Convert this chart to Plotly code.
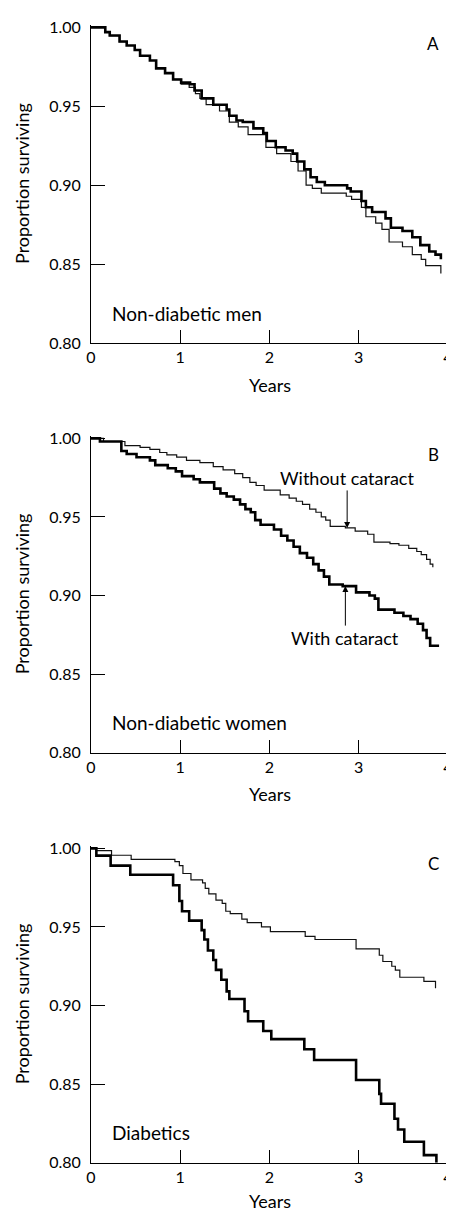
import plotly.graph_objects as go

# ---------------- data (Kaplan-Meier step curves) ----------------
years_ticks = [0, 1, 2, 3, 4]
surv_ticks = [0.80, 0.85, 0.90, 0.95, 1.00]

# Panel A: non-diabetic men
a_with_t = [0, 0.16, 0.21, 0.32, 0.40, 0.49, 0.55, 0.66, 0.73, 0.83, 0.92, 1.01, 1.11, 1.16, 1.24,
            1.37, 1.52, 1.55, 1.63, 1.70, 1.82, 1.93, 1.97, 2.07, 2.18, 2.26, 2.31, 2.39, 2.46, 2.53,
            2.62, 2.87, 2.91, 3.03, 3.08, 3.15, 3.30, 3.36, 3.49, 3.60, 3.69, 3.79, 3.86, 3.92]
a_with_s = [1.000, 0.997, 0.9948, 0.991, 0.9885, 0.9857, 0.982, 0.979, 0.974, 0.971, 0.967, 0.965,
            0.964, 0.960, 0.955, 0.951, 0.948, 0.944, 0.941, 0.940, 0.936, 0.933, 0.928, 0.924, 0.922,
            0.920, 0.915, 0.910, 0.905, 0.902, 0.900, 0.898, 0.896, 0.890, 0.886, 0.883, 0.879, 0.873,
            0.871, 0.867, 0.862, 0.858, 0.856, 0.853]
a_without_t = [0, 0.16, 0.21, 0.32, 0.40, 0.49, 0.55, 0.66, 0.73, 0.83, 0.92, 1.01, 1.10, 1.17, 1.22,
               1.29, 1.44, 1.55, 1.65, 1.76, 1.96, 2.08, 2.24, 2.32, 2.41, 2.48, 2.58, 2.86, 2.92, 3.03,
               3.08, 3.19, 3.26, 3.34, 3.49, 3.60, 3.70, 3.75, 3.92]
a_without_s = [1.000, 0.997, 0.9948, 0.991, 0.9885, 0.9857, 0.982, 0.979, 0.974, 0.971, 0.967, 0.964,
               0.962, 0.958, 0.955, 0.951, 0.947, 0.940, 0.937, 0.932, 0.924, 0.920, 0.915, 0.909,
               0.900, 0.898, 0.895, 0.893, 0.891, 0.886, 0.880, 0.876, 0.872, 0.864, 0.861, 0.856,
               0.853, 0.849, 0.844]

# Panel B: non-diabetic women
b_with_t = [0, 0.10, 0.34, 0.40, 0.51, 0.66, 0.72, 0.86, 0.95, 1.02, 1.15, 1.22, 1.38, 1.45, 1.52,
            1.60, 1.67, 1.73, 1.79, 1.84, 1.90, 2.05, 2.13, 2.20, 2.27, 2.34, 2.42, 2.49, 2.55, 2.61,
            2.67, 2.82, 2.97, 3.12, 3.18, 3.22, 3.40, 3.50, 3.58, 3.66, 3.72, 3.76, 3.80, 3.90]
b_with_s = [1.000, 0.998, 0.992, 0.990, 0.988, 0.986, 0.983, 0.981, 0.979, 0.976, 0.974, 0.972,
            0.968, 0.965, 0.963, 0.961, 0.958, 0.955, 0.953, 0.948, 0.945, 0.942, 0.938, 0.935,
            0.931, 0.927, 0.924, 0.920, 0.916, 0.912, 0.907, 0.906, 0.902, 0.900, 0.898, 0.891,
            0.889, 0.887, 0.885, 0.882, 0.878, 0.873, 0.868, 0.868]
b_without_t = [0, 0.14, 0.38, 0.55, 0.66, 0.77, 0.85, 0.96, 1.07, 1.22, 1.37, 1.48, 1.61, 1.70, 1.78,
               1.85, 1.94, 2.12, 2.22, 2.30, 2.37, 2.45, 2.52, 2.58, 2.63, 2.68, 2.85, 2.96, 3.10,
               3.17, 3.35, 3.45, 3.56, 3.65, 3.70, 3.76, 3.80, 3.83]
b_without_s = [1.000, 0.998, 0.9954, 0.9943, 0.993, 0.991, 0.9895, 0.988, 0.986, 0.9845, 0.982,
               0.980, 0.9775, 0.975, 0.972, 0.970, 0.967, 0.964, 0.962, 0.960, 0.958, 0.955, 0.953,
               0.950, 0.948, 0.944, 0.943, 0.941, 0.939, 0.934, 0.933, 0.932, 0.930, 0.928, 0.926,
               0.923, 0.920, 0.918]

# Panel C: diabetics
c_with_t = [0, 0.06, 0.22, 0.44, 0.92, 0.99, 1.02, 1.10, 1.24, 1.27, 1.31, 1.37, 1.40, 1.46, 1.52,
            1.55, 1.72, 1.76, 1.93, 2.02, 2.39, 2.50, 2.97, 3.23, 3.25, 3.40, 3.44, 3.51, 3.73, 3.87]
c_with_s = [1.000, 0.9954, 0.989, 0.9832, 0.9765, 0.9665, 0.960, 0.954, 0.948, 0.942, 0.935, 0.929,
            0.9227, 0.9164, 0.909, 0.9042, 0.8964, 0.890, 0.8838, 0.8786, 0.8722, 0.8653, 0.8526,
            0.8438, 0.8375, 0.828, 0.8211, 0.8133, 0.8048, 0.800]
c_without_t = [0, 0.06, 0.23, 0.45, 0.94, 0.99, 1.03, 1.12, 1.25, 1.28, 1.32, 1.40, 1.47, 1.51, 1.56,
               1.69, 1.75, 1.91, 2.01, 2.40, 2.51, 2.97, 3.23, 3.27, 3.37, 3.41, 3.46, 3.73, 3.86]
c_without_s = [1.000, 0.9985, 0.9956, 0.9930, 0.9916, 0.989, 0.984, 0.980, 0.978, 0.9745, 0.971,
               0.967, 0.965, 0.960, 0.9585, 0.955, 0.9528, 0.950, 0.947, 0.944, 0.942, 0.936, 0.932,
               0.928, 0.925, 0.9225, 0.918, 0.9154, 0.911]

panel_letters = ["A", "B", "C"]
panel_groups = ["Non-diabetic men", "Non-diabetic women", "Diabetics"]
label_with = "With cataract"
label_without = "Without cataract"
x_title = "Years"
y_title = "Proportion surviving"

# ---------------- figure ----------------
# the page body keeps its default 8px margin, so the figure is drawn 8px in from the top-left
OFF = 8
W, H = 454 - OFF, 1212 - OFF
FONT = "Lato, 'Open Sans', sans-serif"
tops = [25 - OFF, 436 - OFF, 846 - OFF]
bottoms = [343 - OFF, 752.7 - OFF, 1162.7 - OFF]
years_shift = [-42, -41, -38]
PL, PR = 91 - OFF, 448 - OFF
PW = PR - PL

fig = go.Figure()
panels = [(a_without_t, a_without_s, a_with_t, a_with_s),
          (b_without_t, b_without_s, b_with_t, b_with_s),
          (c_without_t, c_without_s, c_with_t, c_with_s)]

for i, (wt, ws, ct, cs) in enumerate(panels):
    sfx = "" if i == 0 else str(i + 1)
    fig.add_trace(go.Scatter(x=wt, y=ws, mode="lines", line=dict(color="#111", width=1.2, shape="hv"),
                             xaxis="x" + sfx, yaxis="y" + sfx, showlegend=False, hoverinfo="skip"))
    fig.add_trace(go.Scatter(x=ct, y=cs, mode="lines", line=dict(color="#000", width=2.6, shape="hv"),
                             xaxis="x" + sfx, yaxis="y" + sfx, showlegend=False, hoverinfo="skip"))

layout = dict(width=W, height=H, margin=dict(l=PL, r=W - PR, t=0, b=0, pad=0, autoexpand=False),
              paper_bgcolor="white", plot_bgcolor="white",
              font=dict(family=FONT, color="#000"), showlegend=False)

annotations = []
for i in range(3):
    sfx = "" if i == 0 else str(i + 1)
    dom = [1 - bottoms[i] / H, 1 - tops[i] / H]
    layout["xaxis" + sfx] = dict(domain=[0, 1], anchor="y" + sfx, range=[0, 4], tickvals=years_ticks,
                                 ticktext=[str(v) for v in years_ticks], ticks="inside", ticklen=13,
                                 tickwidth=1, tickcolor="#000", showline=True, linecolor="#000",
                                 linewidth=1, showgrid=False, zeroline=False, mirror=False,
                                 automargin=False,
                                 tickfont=dict(size=16, family=FONT), ticklabelstandoff=0)
    layout["yaxis" + sfx] = dict(domain=dom, anchor="x" + sfx, range=[0.8, 1.0015], tickvals=surv_ticks,
                                 ticktext=["%.2f" % v for v in surv_ticks], ticks="inside", ticklen=14,
                                 tickwidth=1, tickcolor="#000", showline=True, linecolor="#000",
                                 linewidth=1, showgrid=False, zeroline=False, mirror=False,
                                 automargin=False,
                                 tickfont=dict(size=16, family=FONT), ticklabelstandoff=6)
    xd, yd = "x" + sfx + " domain", "y" + sfx + " domain"
    annotations.append(dict(text=x_title, xref="x" + sfx, yref=yd, x=2, y=0, yshift=years_shift[i],
                            xanchor="center", yanchor="middle", showarrow=False,
                            font=dict(size=18, family=FONT)))
    annotations.append(dict(text=y_title, xref=xd, yref=yd, x=0, y=0.5, xshift=-69,
                            xanchor="center", yanchor="middle", textangle=-90, showarrow=False,
                            font=dict(size=18, family=FONT)))
    annotations.append(dict(text=panel_letters[i], xref=xd, yref=yd, x=(433 - 91) / PW, y=1,
                            yshift=-18, xanchor="center", yanchor="middle", showarrow=False,
                            font=dict(size=17, family=FONT)))
    annotations.append(dict(text=panel_groups[i], xref=xd, yref=yd, x=19 / PW, y=0,
                            yshift=30, xanchor="left", yanchor="middle", showarrow=False,
                            font=dict(size=19, family=FONT)))

# arrows in panel B
annotations.append(dict(text=label_without, xref="x2", yref="y2", x=2.87, y=0.943, ax=0, ay=-50,
                        showarrow=True, arrowhead=2, arrowsize=1.2, arrowwidth=1, arrowcolor="#000",
                        font=dict(size=18, family=FONT)))
annotations.append(dict(text=label_with, xref="x2", yref="y2", x=2.85, y=0.906, ax=0, ay=52,
                        showarrow=True, arrowhead=2, arrowsize=1.2, arrowwidth=1, arrowcolor="#000",
                        font=dict(size=18, family=FONT)))

layout["annotations"] = annotations
fig.update_layout(**layout)
fig.write_html("out.html")
